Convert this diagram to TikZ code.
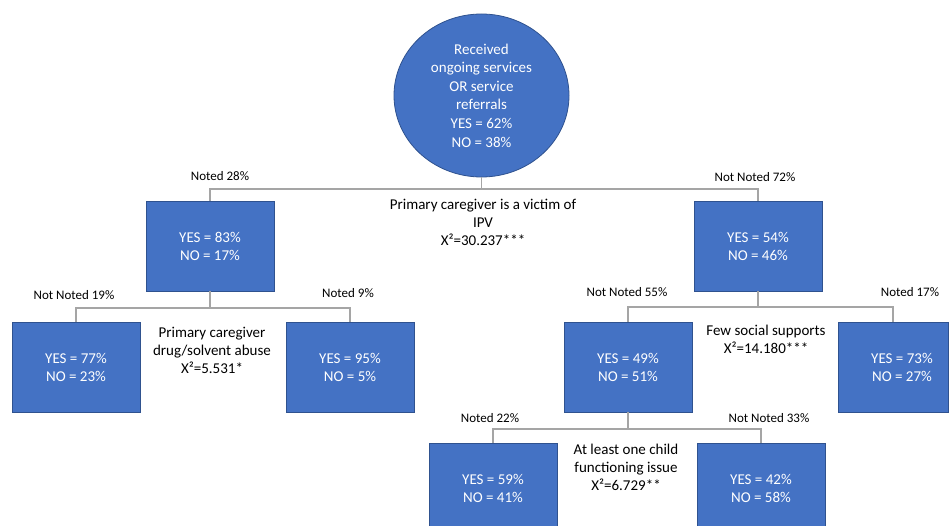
\documentclass[tikz,border=0pt]{standalone}
\usepackage{fontspec}
\setmainfont{Carlito}
\usetikzlibrary{shapes.geometric}
\definecolor{boxblue}{HTML}{4472C4}
\definecolor{boxedge}{HTML}{2F528F}
\definecolor{conngray}{HTML}{A5A5A5}
\tikzset{
  stepbox/.style={rectangle, fill=boxblue, draw=boxedge, line width=0.8pt,
    minimum width=128pt, minimum height=90pt, inner sep=0pt,
    text=white, align=center, font=\fontsize{15}{18}\selectfont},
  rootnode/.style={ellipse, fill=boxblue, draw=boxedge, line width=0.8pt,
    minimum width=175pt, minimum height=163pt, inner sep=0pt,
    text=white, align=center, font=\fontsize{15}{18.6}\selectfont},
  conn/.style={draw=conngray, line width=1.5pt},
  branchlbl/.style={font=\fontsize{13}{15}\selectfont, inner sep=0pt},
  testlbl/.style={font=\fontsize{15}{18}\selectfont, align=center, inner sep=0pt},
  boxtxt/.style={text=white, align=center, font=\fontsize{15}{18}\selectfont, inner sep=0pt}
}
\begin{document}
\begin{tikzpicture}[x=1pt, y=-1pt]
\useasboundingbox (0,0) rectangle (952,526);
\clip (0,0) rectangle (952,526);
% nodes
\node[rootnode] (root) at (481.5,95.5) {Received\\ongoing services\\OR service\\referrals\\YES = 62\%\\NO = 38\%};
\node[stepbox] (b1) at (210,246) {YES = 83\%\\NO = 17\%};
\node[stepbox] (b2) at (758,246) {YES = 54\%\\NO = 46\%};
\node[stepbox] (b3) at (76,367) {YES = 77\%\\NO = 23\%};
\node[stepbox] (b4) at (350,367) {YES = 95\%\\NO = 5\%};
\node[stepbox] (b5) at (628,367) {YES = 49\%\\NO = 51\%};
\node[stepbox, minimum width=110pt] (b6) at (893,367) {};
\node[boxtxt] (b6t) at (902,367) {YES = 73\%\\NO = 27\%};
\node[stepbox, anchor=north] (b7) at (493,443) {};
\node[boxtxt] (b7t) at (493,488) {YES = 59\%\\NO = 41\%};
\node[stepbox, anchor=north] (b8) at (761,443) {};
\node[boxtxt] (b8t) at (761,488) {YES = 42\%\\NO = 58\%};
% connectors
\coordinate (j0) at (481.5,189);
\draw[conn] (root.south) -- (j0);
\draw[conn] (j0) -| (b1.north);
\draw[conn] (j0) -| (b2.north);
\coordinate (j1) at (210,308);
\draw[conn] (b1.south) -- (j1);
\draw[conn] (j1) -| (b3.north);
\draw[conn] (j1) -| (b4.north);
\coordinate (j2) at (758,307);
\draw[conn] (b2.south) -- (j2);
\draw[conn] (j2) -| (b5.north);
\draw[conn] (j2) -| (b6.north);
\coordinate (j3) at (628,429);
\draw[conn] (b5.south) -- (j3);
\draw[conn] (j3) -| (b7.north);
\draw[conn] (j3) -| (b8.north);
% branch labels
\node[branchlbl] (l1) at (220,176) {Noted 28\%};
\node[branchlbl] (l2) at (755,177) {Not Noted 72\%};
\node[branchlbl] (l3) at (74,295) {Not Noted 19\%};
\node[branchlbl] (l4) at (348,293) {Noted 9\%};
\node[branchlbl] (l5) at (627,292) {Not Noted 55\%};
\node[branchlbl] (l6) at (910,292) {Noted 17\%};
\node[branchlbl] (l7) at (490,418) {Noted 22\%};
\node[branchlbl] (l8) at (769,418) {Not Noted 33\%};
% test labels
\node[testlbl] (t1) at (483,222) {Primary caregiver is a victim of\\IPV\\X²=30.237***};
\node[testlbl] (t2) at (212,350) {Primary caregiver\\drug/solvent abuse\\X²=5.531*};
\node[testlbl] (t3) at (766,339) {Few social supports\\X²=14.180***};
\node[testlbl] (t4) at (626,467) {At least one child\\functioning issue\\X²=6.729**};
\end{tikzpicture}
\end{document}
